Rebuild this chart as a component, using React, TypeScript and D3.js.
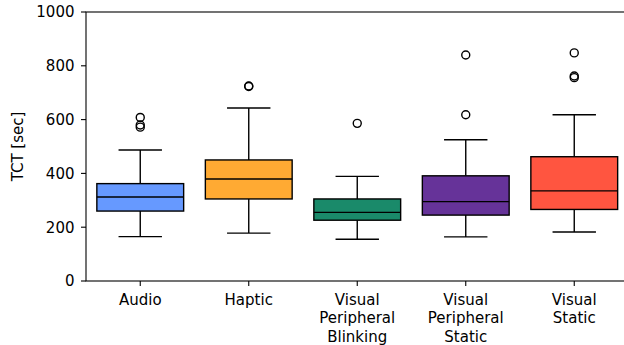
import React from "react";
import * as d3 from "d3";

const categories: string[][] = [
  ["Audio"],
  ["Haptic"],
  ["Visual", "Peripheral", "Blinking"],
  ["Visual", "Peripheral", "Static"],
  ["Visual", "Static"],
];
const colors = ["#6699ff", "#ffaa33", "#1a8a6a", "#663399", "#ff5540"];
const whiskerLow = [165, 178, 155, 164, 182];
const q1 = [260, 305, 226, 245, 266];
const median = [312, 379, 255, 295, 335];
const q3 = [362, 450, 305, 391, 462];
const whiskerHigh = [487, 643, 389, 525, 618];
const outliers: number[][] = [
  [608, 580, 572],
  [725, 723],
  [586],
  [618, 840],
  [848, 762, 756],
];
const yTicks = [0, 200, 400, 600, 800, 1000];

const W = 624;
const H = 345;
const left = 86;
const right = 628.5;
const top = 12;
const bottom = 281;

export default function App() {
  const x = d3.scaleLinear().domain([0.5, 5.5]).range([left, right]);
  const y = d3.scaleLinear().domain([0, 1000]).range([bottom, top]);
  const boxW = x(1.4) - x(1);
  const capW = x(1.2) - x(1);
  const font = "'DejaVu Sans', sans-serif";
  const lw = 1.4;
  return (
    <svg
      width={W}
      height={H}
      style={{ position: "absolute", left: 0, top: 0, background: "#fff" }}
      fontFamily={font}
    >
      <rect x={0} y={0} width={W} height={H} fill="#fff" />
      {categories.map((c, i) => {
        const cx = x(i + 1);
        return (
          <g key={i} stroke="#000" strokeWidth={lw} fill="none">
            <line x1={cx} x2={cx} y1={y(whiskerLow[i])} y2={y(q1[i])} />
            <line x1={cx} x2={cx} y1={y(q3[i])} y2={y(whiskerHigh[i])} />
            <line x1={cx - capW} x2={cx + capW} y1={y(whiskerLow[i])} y2={y(whiskerLow[i])} />
            <line x1={cx - capW} x2={cx + capW} y1={y(whiskerHigh[i])} y2={y(whiskerHigh[i])} />
            <rect
              x={cx - boxW}
              y={y(q3[i])}
              width={boxW * 2}
              height={y(q1[i]) - y(q3[i])}
              fill={colors[i]}
            />
            <line x1={cx - boxW} x2={cx + boxW} y1={y(median[i])} y2={y(median[i])} />
            {outliers[i].map((o, j) => (
              <circle key={j} cx={cx} cy={y(o)} r={4} />
            ))}
          </g>
        );
      })}
      <rect
        x={left}
        y={top}
        width={right - left}
        height={bottom - top}
        fill="none"
        stroke="#000"
        strokeWidth={1.1}
      />
      {yTicks.map((t) => (
        <g key={t}>
          <line x1={left - 5} x2={left} y1={y(t)} y2={y(t)} stroke="#000" strokeWidth={1.1} />
          <text x={74.5} y={y(t)} dy="0.36em" textAnchor="end" fontSize={15} fill="#000">
            {t}
          </text>
        </g>
      ))}
      {categories.map((c, i) => (
        <g key={i}>
          <line x1={x(i + 1)} x2={x(i + 1)} y1={bottom} y2={bottom + 5} stroke="#000" strokeWidth={1.1} />
          {c.map((s, k) => (
            <text key={k} x={x(i + 1)} y={304.5 + k * 18.5} textAnchor="middle" fontSize={15} fill="#000">
              {s}
            </text>
          ))}
        </g>
      ))}
      <text
        transform={`translate(23,${(top + bottom) / 2}) rotate(-90)`}
        textAnchor="middle"
        fontSize={15}
        fill="#000"
      >
        TCT [sec]
      </text>
    </svg>
  );
}
